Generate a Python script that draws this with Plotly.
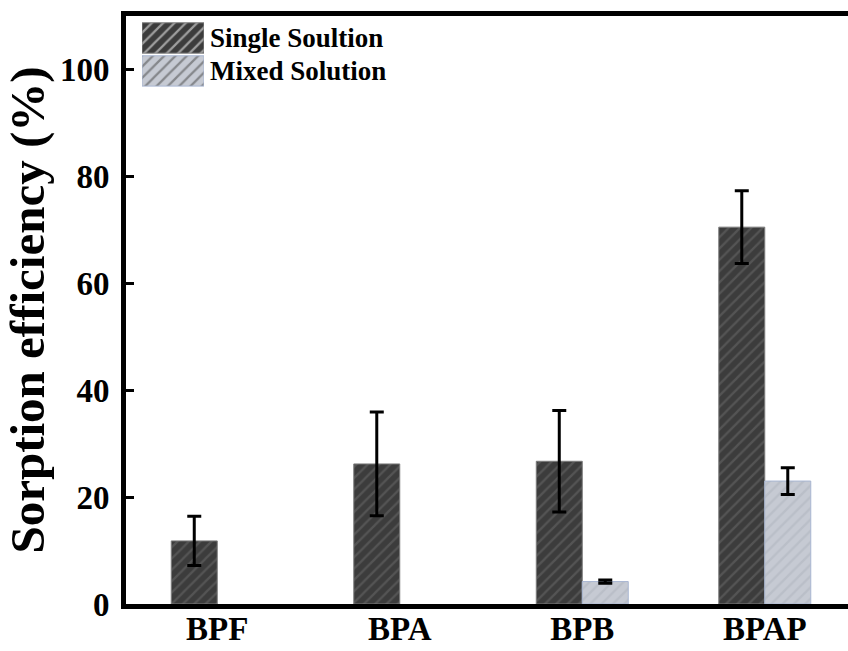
import plotly.graph_objects as go

categories = ["BPF", "BPA", "BPB", "BPAP"]
series_names = ["Single Soultion", "Mixed Solution"]
single_vals = [11.8, 26.2, 26.7, 70.5]
single_err = [4.6, 9.7, 9.5, 6.8]
mixed_vals = [None, None, 4.2, 23.0]
mixed_err = [None, None, 0.3, 2.5]
y_ticks = [0, 20, 40, 60, 80, 100]

FONT = "Liberation Serif"
dark_bg, dark_fg, dark_line = "#3c3c3c", "#6c6c6c", "#7c7c7c"
light_bg, light_fg, light_line = "#c6cad3", "#aeb3bd", "#a8b6d2"

fig = go.Figure()

fig.add_trace(go.Bar(
    x=categories, y=single_vals, name=series_names[0], showlegend=False,
    marker=dict(color=dark_bg, line=dict(color=dark_line, width=1),
                pattern=dict(shape="/", fgcolor=dark_fg, size=8, solidity=0.28)),
    error_y=dict(type="data", array=single_err, color="black", thickness=3, width=7),
))
fig.add_trace(go.Bar(
    x=categories, y=mixed_vals, name=series_names[1], showlegend=False,
    marker=dict(color=light_bg, line=dict(color=light_line, width=1),
                pattern=dict(shape="/", fgcolor=light_fg, size=8, solidity=0.3)),
    error_y=dict(type="data", array=mixed_err, color="black", thickness=3, width=7),
))

# legend drawn as a small horizontal bar chart (swatches + labels)
fig.add_trace(go.Bar(
    x=[1, 1], y=series_names, orientation="h", xaxis="x2", yaxis="y2",
    width=0.92, showlegend=False, hoverinfo="skip",
    marker=dict(color=[dark_bg, light_bg],
                line=dict(color=[dark_line, light_line], width=1),
                pattern=dict(shape="/", fgcolor=[dark_fg, light_fg], size=8, solidity=0.28)),
))

fig.update_layout(
    width=848, height=651,
    margin=dict(l=126, r=0, t=15.5, b=47, autoexpand=False),
    paper_bgcolor="white", plot_bgcolor="white",
    barmode="group", bargap=0.496, bargroupgap=0,
    font=dict(family=FONT, color="black", weight="bold"),
    xaxis=dict(
        range=[-0.5, 3.456], showline=True, linecolor="black", linewidth=5,
        mirror=True, ticks="", showgrid=False, zeroline=False, automargin=False,
        ticklabelstandoff=-9,
        tickfont=dict(family=FONT, size=33, weight="bold"),
    ),
    yaxis=dict(
        range=[0, 110], tickvals=y_ticks, showline=True, linecolor="black",
        linewidth=5, mirror=False, ticks="inside", ticklen=8, tickwidth=3,
        tickcolor="black", showgrid=False, zeroline=False, automargin=False,
        ticklabelstandoff=5,
        tickfont=dict(family=FONT, size=33, weight="bold"),
        title=dict(text="Sorption efficiency (%)", standoff=5,
                   font=dict(family=FONT, size=49, weight="bold")),
    ),
    xaxis2=dict(domain=[0.0222, 0.108], range=[0, 1], anchor="y2",
                visible=False, fixedrange=True),
    yaxis2=dict(domain=[0.8785, 0.9907], anchor="x2", side="right",
                categoryorder="array", categoryarray=series_names[::-1],
                showline=False, ticks="", showgrid=False, zeroline=False,
                ticklabelstandoff=5,
                tickfont=dict(family=FONT, size=27, weight="bold"),
                fixedrange=True, automargin=False),
)

fig.write_html("out.html", config={"displayModeBar": False},
               post_script="document.body.style.margin='0';")
